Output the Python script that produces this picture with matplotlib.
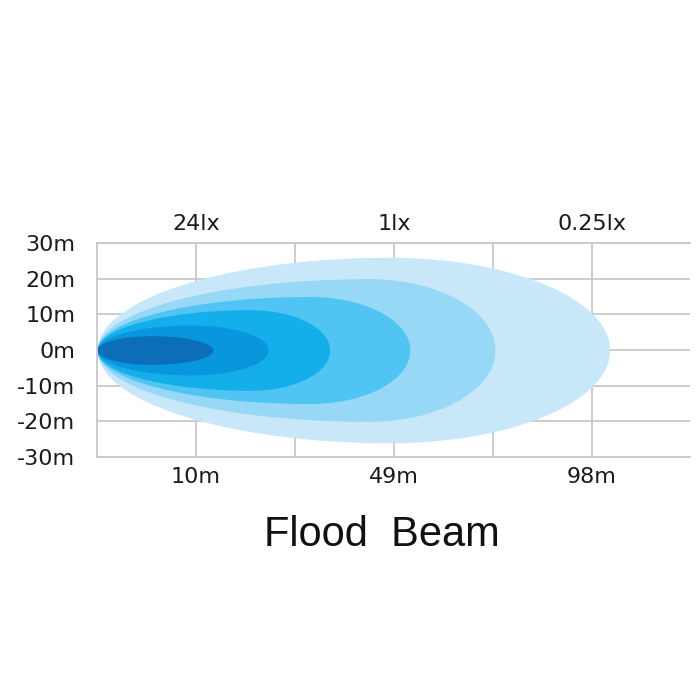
import numpy as np
import matplotlib.pyplot as plt

# beam layers, outermost first (x in grid units, half-heights in m)
layer_colors = ['#c8e8fa', '#96d8f5', '#50c4f2', '#14aeea', '#0896dc', '#0c6eb9']
layer_reach = [5.18, 4.02, 3.16, 2.35, 1.73, 1.17]
layer_peak_x = [2.95, 2.75, 2.15, 1.55, 0.95, 0.55]
layer_half_h = [26.0, 20.0, 15.0, 11.3, 7.0, 4.0]

bottom_pos = [1, 3, 5]
bottom_labels = ['10m', '49m', '98m']
top_labels = ['24lx', '1lx', '0.25lx']
y_ticks = [30, 20, 10, 0, -10, -20, -30]
y_labels = ['30m', '20m', '10m', '0m', '-10m', '-20m', '-30m']

plt.rcParams['font.family'] = ['Liberation Sans', 'DejaVu Sans']

fig = plt.figure(figsize=(7, 7), dpi=100)
ax = fig.add_axes([97 / 700, 1 - 457 / 700, 593 / 700, 214 / 700])

for col, reach, px, hh in zip(layer_colors, layer_reach, layer_peak_x, layer_half_h):
    # left side: quarter ellipse from nose to peak, right side: quarter ellipse to tip
    xl = np.linspace(0, px, 200)
    hl = hh * np.sqrt(np.clip(1 - ((px - xl) / px) ** 2, 0, 1))
    xr = np.linspace(px, reach, 200)
    hr = hh * np.sqrt(np.clip(1 - ((xr - px) / (reach - px)) ** 2, 0, 1))
    xs = np.concatenate([xl, xr])
    hs = np.concatenate([hl, hr])
    ax.fill_between(xs, -hs, hs, color=col, lw=0, zorder=2)

ax.set_xlim(0, 5.99)
ax.set_ylim(-30, 30)

tick_font = dict(family='DejaVu Sans', size=16)

ax.set_xticks(bottom_pos)
ax.set_xticks([2, 4], minor=True)
ax.set_xticklabels(bottom_labels, **tick_font)
ax.set_yticks(y_ticks)
ax.set_yticklabels(y_labels, **tick_font)
ax.tick_params(axis='both', which='both', length=0, colors='#1a1a1a')
ax.tick_params(axis='x', pad=7.5)
ax.tick_params(axis='y', pad=15.5)

ax.grid(True, which='both', color='#c8c8c8', lw=1.3, zorder=1)
ax.set_axisbelow(True)
for s in ['left', 'bottom', 'top']:
    ax.spines[s].set_color('#c8c8c8')
    ax.spines[s].set_linewidth(1.3)
ax.spines['right'].set_visible(False)

top = ax.secondary_xaxis('top')
top.set_xticks(bottom_pos)
top.set_xticklabels(top_labels, **tick_font)
top.tick_params(length=0, pad=6.5, colors='#1a1a1a')
top.spines['top'].set_visible(False)

fig.text(382 / 700, 1 - 535 / 700, 'Flood  Beam', fontsize=30,
         ha='center', va='center', color='#111111')

fig.savefig('out.png', dpi=100, facecolor='white')
